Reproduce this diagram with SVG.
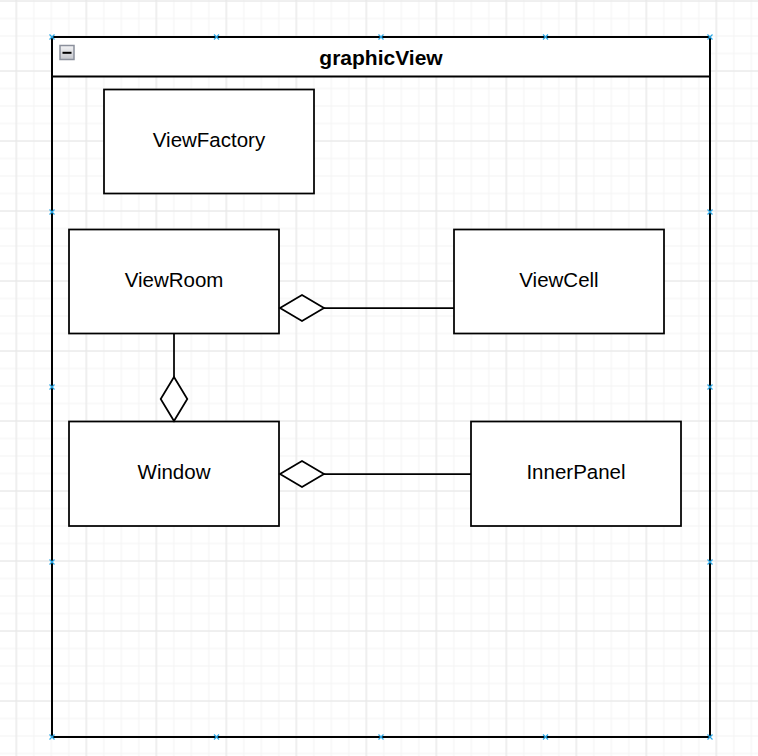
<svg xmlns="http://www.w3.org/2000/svg" xmlns:xlink="http://www.w3.org/1999/xlink" width="758" height="756" viewBox="0 0 758 756">
<style>
.node{fill:#ffffff;stroke:#000000;stroke-width:1.75}
.lbl{font-family:"Liberation Sans",Arial,sans-serif;font-size:20.5px;fill:#000000;text-anchor:middle}
.title{font-family:"Liberation Sans",Arial,sans-serif;font-size:21px;font-weight:bold;fill:#000000;text-anchor:middle}
.edge{fill:none;stroke:#000000;stroke-width:1.75}
.dia{fill:#ffffff;stroke:#000000;stroke-width:1.75}
.hx{fill:none;stroke:#2aa7e6;stroke-width:1.2}
</style>
<defs>
<pattern id="minor" patternUnits="userSpaceOnUse" x="7.55" y="-7.75" width="17.5" height="17.5">
<path d="M8.75 0V17.5M0 8.75H17.5" stroke="#f4f4f4" stroke-width="1" fill="none"/>
</pattern>
<pattern id="major" patternUnits="userSpaceOnUse" x="-18.7" y="-34" width="70" height="70">
<path d="M35 0V70M0 35H70" stroke="#e6e6e6" stroke-width="1" fill="none"/>
</pattern>
<linearGradient id="btn" x1="0" y1="0" x2="0" y2="1">
<stop offset="0" stop-color="#f4f4f6"/>
<stop offset="1" stop-color="#c4c6cc"/>
</linearGradient>
<path id="xm" class="hx" d="M-2.5 -2.5L2.5 2.5M-2.5 2.5L2.5 -2.5"/>
</defs>
<rect width="758" height="756" fill="#ffffff"/>
<rect width="758" height="756" fill="url(#minor)"/>
<rect width="758" height="756" fill="url(#major)"/>

<g id="graphicView">
<rect x="52" y="37" width="658" height="39" fill="#ffffff" stroke="none"/>
<rect x="52" y="37" width="658" height="700" fill="none" stroke="#000000" stroke-width="2"/>
<line x1="52" y1="76.5" x2="710" y2="76.5" stroke="#000000" stroke-width="2"/>
<text class="title" x="381" y="65">graphicView</text>
<rect x="60" y="45.5" width="14" height="14" fill="url(#btn)" stroke="#8b909c" stroke-width="1.5"/>
<rect x="62.5" y="51.8" width="9" height="2" fill="#000000"/>
</g>

<g id="ViewFactory">
<rect class="node" x="104" y="89.5" width="210" height="104"/>
<text class="lbl" x="209" y="147">ViewFactory</text>
</g>
<g id="ViewRoom">
<rect class="node" x="69" y="229.5" width="210" height="104"/>
<text class="lbl" x="174" y="287">ViewRoom</text>
</g>
<g id="ViewCell">
<rect class="node" x="454" y="229.5" width="210" height="104"/>
<text class="lbl" x="559" y="287">ViewCell</text>
</g>
<g id="Window">
<rect class="node" x="69" y="421.5" width="210" height="104.5"/>
<text class="lbl" x="174" y="479">Window</text>
</g>
<g id="InnerPanel">
<rect class="node" x="471" y="421.5" width="210" height="104.5"/>
<text class="lbl" x="576" y="479">InnerPanel</text>
</g>

<g id="connectors">
<path class="edge" d="M454 308H324"/>
<path class="dia" d="M280 308L302 295L324 308L302 321Z"/>
<path class="edge" d="M174 333.5V377"/>
<path class="dia" d="M174 377L187.3 399L174 421L160.7 399Z"/>
<path class="edge" d="M471 474H324"/>
<path class="dia" d="M280 474L302 461L324 474L302 487Z"/>
</g>

<g id="handles">
<use xlink:href="#xm" x="52" y="37"/>
<use xlink:href="#xm" x="216.5" y="37"/>
<use xlink:href="#xm" x="381" y="37"/>
<use xlink:href="#xm" x="545.5" y="37"/>
<use xlink:href="#xm" x="710" y="37"/>
<use xlink:href="#xm" x="52" y="212"/>
<use xlink:href="#xm" x="710" y="212"/>
<use xlink:href="#xm" x="52" y="387"/>
<use xlink:href="#xm" x="710" y="387"/>
<use xlink:href="#xm" x="52" y="562"/>
<use xlink:href="#xm" x="710" y="562"/>
<use xlink:href="#xm" x="52" y="737"/>
<use xlink:href="#xm" x="216.5" y="737"/>
<use xlink:href="#xm" x="381" y="737"/>
<use xlink:href="#xm" x="545.5" y="737"/>
<use xlink:href="#xm" x="710" y="737"/>
</g>
</svg>
